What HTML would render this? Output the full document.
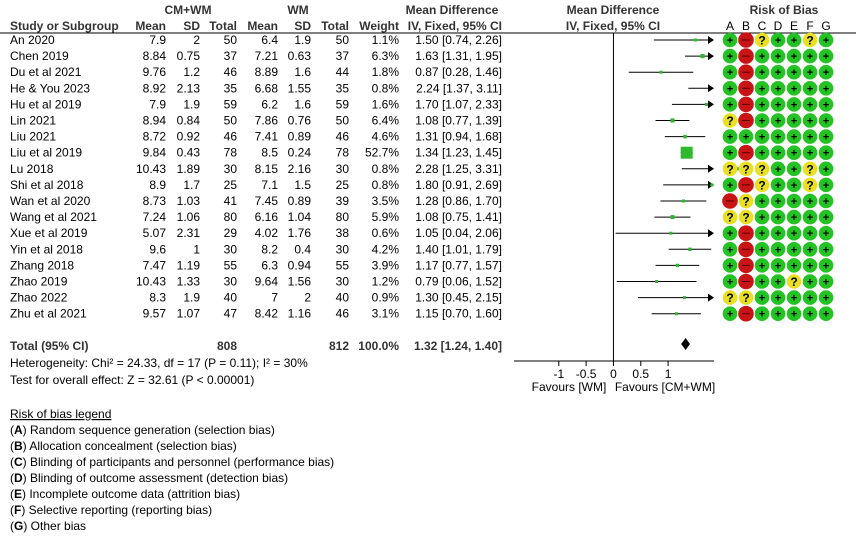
<!DOCTYPE html>
<html><head><meta charset="utf-8"><style>
body{margin:0;background:#fff;}
svg{display:block;font-family:"Liberation Sans",Arial,sans-serif;}
</style></head><body>
<svg id="fp" width="856" height="550" viewBox="0 0 856 550"></svg>
<script>
const studies=["An 2020","Chen 2019","Du et al 2021","He & You 2023","Hu et al 2019","Lin 2021","Liu 2021","Liu et al 2019","Lu 2018","Shi et al 2018","Wan et al 2020","Wang et al 2021","Xue et al 2019","Yin et al 2018","Zhang 2018","Zhao 2019","Zhao 2022","Zhu et al 2021"];
const expMean=["7.9","8.84","9.76","8.92","7.9","8.94","8.72","9.84","10.43","8.9","8.73","7.24","5.07","9.6","7.47","10.43","8.3","9.57"];
const expSD=["2","0.75","1.2","2.13","1.9","0.84","0.92","0.43","1.89","1.7","1.03","1.06","2.31","1","1.19","1.33","1.9","1.07"];
const expN=[50,37,46,35,59,50,46,78,30,25,41,80,29,30,55,30,40,47];
const ctlMean=["6.4","7.21","8.89","6.68","6.2","7.86","7.41","8.5","8.15","7.1","7.45","6.16","4.02","8.2","6.3","9.64","7","8.42"];
const ctlSD=["1.9","0.63","1.6","1.55","1.6","0.76","0.89","0.24","2.16","1.5","0.89","1.04","1.76","0.4","0.94","1.56","2","1.16"];
const ctlN=[50,37,44,35,59,50,46,78,30,25,39,80,38,30,55,30,40,46];
const weights=[1.1,6.3,1.8,0.8,1.6,6.4,4.6,52.7,0.8,0.8,3.5,5.9,0.6,4.2,3.9,1.2,0.9,3.1];
const md=[1.50,1.63,0.87,2.24,1.70,1.08,1.31,1.34,2.28,1.80,1.28,1.08,1.05,1.40,1.17,0.79,1.30,1.15];
const lo=[0.74,1.31,0.28,1.37,1.07,0.77,0.94,1.23,1.25,0.91,0.86,0.75,0.04,1.01,0.77,0.06,0.45,0.70];
const hi=[2.26,1.95,1.46,3.11,2.33,1.39,1.68,1.45,3.31,2.69,1.70,1.41,2.06,1.79,1.57,1.52,2.15,1.60];
const rob=["+-?++?+","+-+++++","+-+++++","+-+++++","+-+++++","?-+++++","+++++++","+-+++++","???++?+","+-?++?+","-?+++++","??+++++","+-+++++","+-+++++","+-+++++","+-++?++","??+++++","+-+++++"];
const totalMD=1.32,totalLo=1.24,totalHi=1.40;
const axisTicks=[-1,-0.5,0,0.5,1];
const robCols=["A","B","C","D","E","F","G"];
const legendItems=[["A","Random sequence generation (selection bias)"],["B","Allocation concealment (selection bias)"],["C","Blinding of participants and personnel (performance bias)"],["D","Blinding of outcome assessment (detection bias)"],["E","Incomplete outcome data (attrition bias)"],["F","Selective reporting (reporting bias)"],["G","Other bias"]];

const svg=document.getElementById('fp');
const NS="http://www.w3.org/2000/svg";
function el(tag,attrs,parent){const e=document.createElementNS(NS,tag);for(const k in attrs)e.setAttribute(k,attrs[k]);(parent||svg).appendChild(e);return e;}
function txt(x,y,s,anchor,bold,size,parent){const t=el('text',{x:x,y:y,'font-size':size||12,'text-anchor':anchor||'start','font-weight':bold?'bold':'normal',fill:bold?'#333':'#000'},parent);t.textContent=s;return t;}
const xMin=-1.82,xMax=1.84,px0=514,px1=714;
function X(v){return px0+(v-xMin)/(xMax-xMin)*(px1-px0);}
function rowY(i){return 40+i*16.1;}

let h;
h=txt(188,14,"CM+WM","middle",true);
h=txt(298,14,"WM","middle",true);
h=txt(452,14,"Mean Difference","middle",true);
h=txt(613,14,"Mean Difference","middle",true);
h=txt(784,14,"Risk of Bias","middle",true);
const hdr=[["Study or Subgroup",10,"start"],["Mean",166,"end"],["SD",200,"end"],["Total",237,"end"],["Mean",278,"end"],["SD",311,"end"],["Total",349,"end"],["Weight",399,"end"],["IV, Fixed, 95% CI",502,"end"],["IV, Fixed, 95% CI",613,"middle"]];
hdr.forEach(a=>{const t=txt(a[1],30,a[0],a[2],true);});
robCols.forEach((c,j)=>{const t=txt(730+j*16,30,c,"middle",false);});
let ln=el('line',{x1:0,y1:33,x2:856,y2:33,stroke:'#000','stroke-width':1});


ln=el('line',{x1:X(0),y1:33,x2:X(0),y2:361,stroke:'#000','stroke-width':1});


studies.forEach((s,i)=>{
  const y=rowY(i),ty=y+4;
  const g=el('g',{});
  
  
  txt(10,ty,s,"start",false,12,g);
  txt(166,ty,expMean[i],"end",false,12,g);
  txt(200,ty,expSD[i],"end",false,12,g);
  txt(237,ty,String(expN[i]),"end",false,12,g);
  txt(278,ty,ctlMean[i],"end",false,12,g);
  txt(311,ty,ctlSD[i],"end",false,12,g);
  txt(349,ty,String(ctlN[i]),"end",false,12,g);
  txt(399,ty,weights[i].toFixed(1)+"%","end",false,12,g);
  txt(502,ty,md[i].toFixed(2)+" ["+lo[i].toFixed(2)+", "+hi[i].toFixed(2)+"]","end",false,12,g);
  const clip=hi[i]>xMax;
  const xr=clip?X(xMax)-6:X(hi[i]);
  const ci=el('line',{x1:X(Math.max(lo[i],xMin)),y1:y,x2:xr,y2:y,stroke:'#000','stroke-width':1});
  
  
  if(clip){const ar=el('polygon',{points:(X(xMax)-6)+","+(y-4)+" "+X(xMax)+","+y+" "+(X(xMax)-6)+","+(y+4),fill:'#000'});
    
    }
  const sz=Math.max(3,12*Math.sqrt(weights[i]/52.7));
  const sq=el('rect',{x:X(md[i])-sz/2,y:y-sz/2,width:sz,height:sz,fill:'#2db82d'});
  
  
  for(let j=0;j<7;j++){
    const c=rob[i][j],cx=730+j*16;
    const col=c==='+'?'#22c322':c==='-'?'#c81414':'#e8e020';
    const circ=el('circle',{cx:cx,cy:y,r:c==='-'?7.8:7.3,fill:col});
    
    
    if(c==='+'){txt(cx,y+4,"+","middle",true,11).setAttribute('fill','#000');}
    else if(c==='?'){txt(cx,y+4.5,"?","middle",true,12).setAttribute('fill','#000');}
    else{el('line',{x1:cx-4,y1:y,x2:cx+4,y2:y,stroke:'#500','stroke-width':1});}
  }
});

const tg=el('g',{});


txt(10,350,"Total (95% CI)","start",true,12,tg);
txt(237,350,String(expN.reduce((a,b)=>a+b,0)),"end",true,12,tg);
txt(349,350,String(ctlN.reduce((a,b)=>a+b,0)),"end",true,12,tg);
txt(399,350,"100.0%","end",true,12,tg);
txt(502,350,totalMD.toFixed(2)+" ["+totalLo.toFixed(2)+", "+totalHi.toFixed(2)+"]","end",true,12,tg);
const dm=el('polygon',{points:X(totalLo)+",344 "+X(totalMD)+",338 "+X(totalHi)+",344 "+X(totalMD)+",350",fill:'#000'});


let t=txt(10,367,"Heterogeneity: Chi² = 24.33, df = 17 (P = 0.11); I² = 30%");

t=txt(10,384,"Test for overall effect: Z = 32.61 (P < 0.00001)");


ln=el('line',{x1:px0,y1:361,x2:px1,y2:361,stroke:'#000','stroke-width':1});

axisTicks.forEach(v=>{
  const tk=el('line',{x1:X(v),y1:361,x2:X(v),y2:366,stroke:'#000'});
  
  
  const lb=txt(X(v),378,String(v),"middle",false,12);
  
  
});
t=txt(569,391,"Favours [WM]","middle");
t=txt(665,391,"Favours [CM+WM]","middle");

t=txt(10,418,"Risk of bias legend");t.setAttribute('text-decoration','underline');

legendItems.forEach((it,k)=>{
  const tt=el('text',{x:10,y:434+k*16,'font-size':12,fill:'#000'});
  
  
  const a=el('tspan',{},tt);a.textContent="(";
  const b=el('tspan',{'font-weight':'bold'},tt);b.textContent=it[0];
  const c=el('tspan',{},tt);c.textContent=") "+it[1];
});
</script>
</body></html>
